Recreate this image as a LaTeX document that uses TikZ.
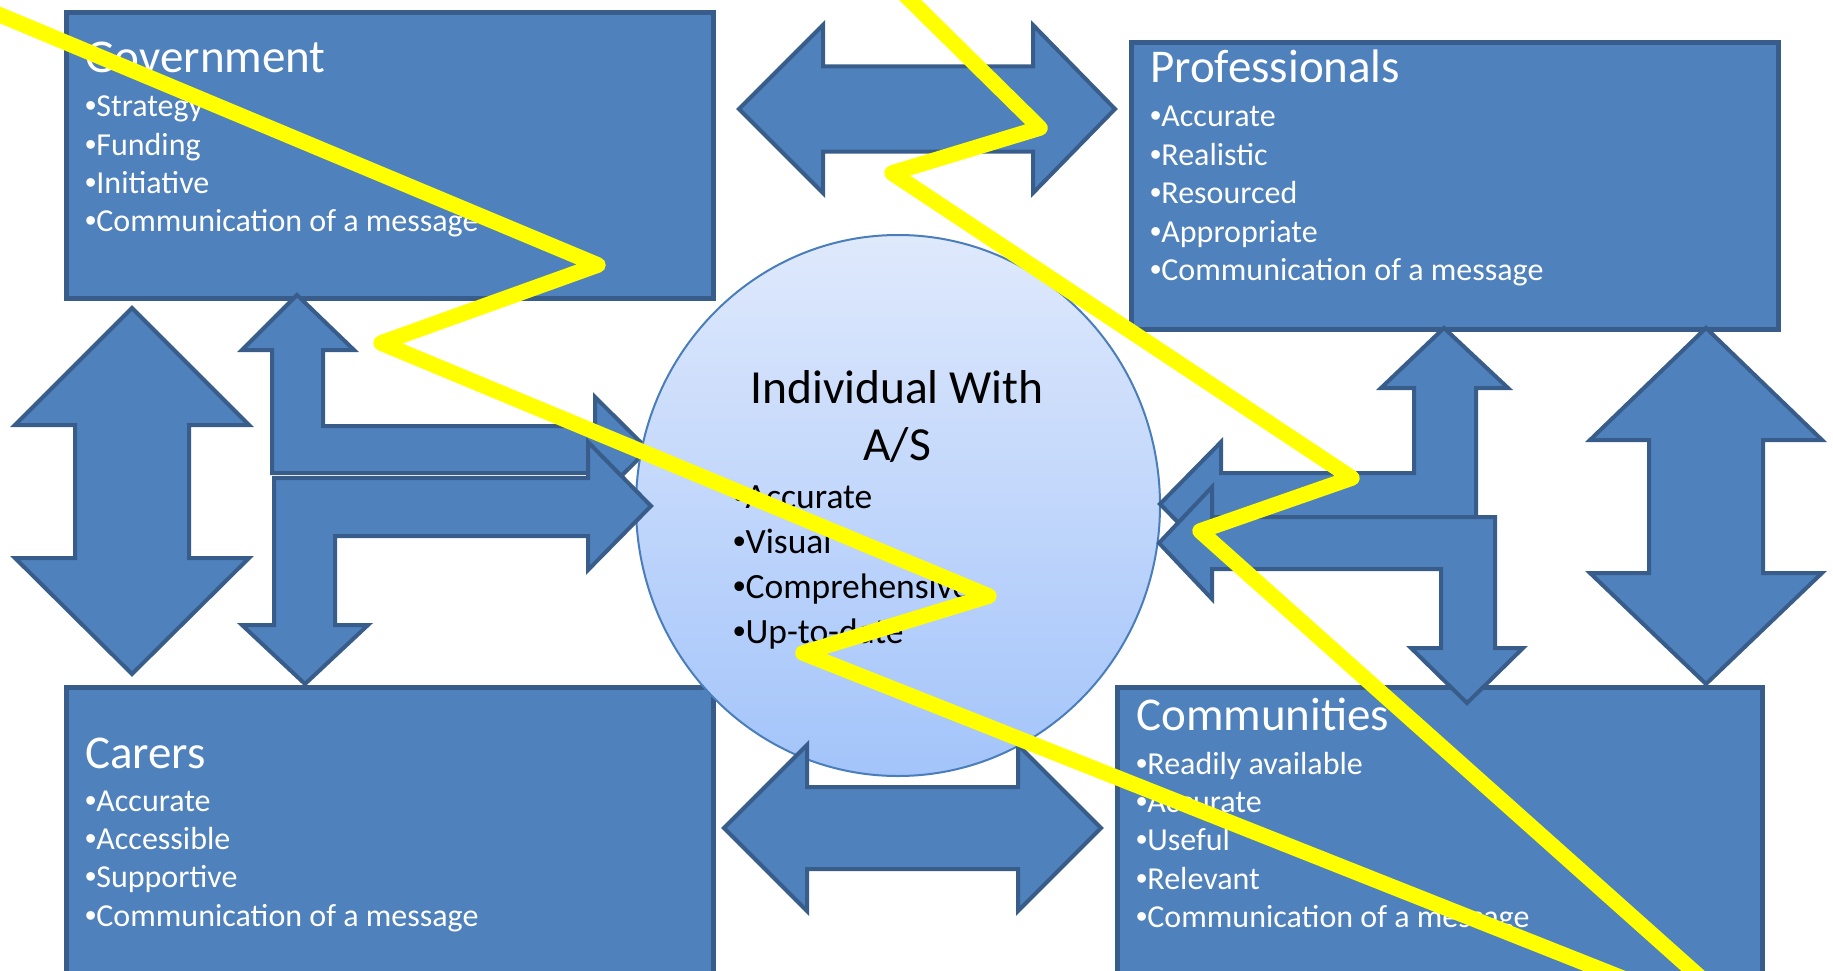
\documentclass[tikz,border=0pt]{standalone}
\usepackage{fontspec}
\setmainfont{Carlito}
\newfontfamily\bulfont{Liberation Sans}
\newcommand{\bul}{{\bulfont •}}
\usetikzlibrary{shapes.geometric}
\definecolor{boxblue}{RGB}{79,129,189}
\definecolor{boxedge}{RGB}{56,93,138}
\definecolor{circtop}{RGB}{223,233,252}
\definecolor{circbot}{RGB}{163,196,250}
\definecolor{circedge}{RGB}{74,126,187}
\definecolor{zigyellow}{RGB}{255,255,0}
\tikzset{
  blk/.style={fill=boxblue, draw=boxedge, line width=4pt, line join=miter},
  boxstyle/.style={fill=boxblue, draw=boxedge, line width=5pt, inner sep=0pt, anchor=north west},
  ttl/.style={anchor=base west, inner sep=0pt, text=white, font=\fontsize{47}{56}\selectfont},
  itm/.style={anchor=base west, inner sep=0pt, text=white, font=\fontsize{32}{38.5}\selectfont},
  cttl/.style={anchor=base, inner sep=0pt, text=black, font=\fontsize{47.5}{56}\selectfont},
  citm/.style={anchor=base west, inner sep=0pt, text=black, font=\fontsize{35.5}{45}\selectfont},
  zig/.style={draw=zigyellow, line width=15.5pt, line join=round}
}
\begin{document}
\begin{tikzpicture}[x=1pt,y=-1pt]
\useasboundingbox (0,0) rectangle (1833,971);
\clip (0,0) rectangle (1833,971);

% boxes
\node[boxstyle, minimum width=647pt, minimum height=286pt] (gov) at (64,10) {};
\node[boxstyle, minimum width=647pt, minimum height=287pt] (prof) at (1129,40) {};
\node[boxstyle, minimum width=647pt, minimum height=287pt] (carers) at (64,685) {};
\node[boxstyle, minimum width=645pt, minimum height=287pt] (comm) at (1115,685) {};

% bent arrow Gov <-> circle (behind the circle)
\draw[blk] (297,295) -- (354,350) -- (323,350) -- (323,426) -- (595,426) -- (595,397)
  -- (648,449.5) -- (595,502) -- (595,473) -- (272,473) -- (272,350) -- (242,350) -- cycle;

% central circle
\node[ellipse, inner sep=0pt, minimum width=524pt, minimum height=541pt,
      top color=circtop, bottom color=circbot, draw=circedge, line width=2pt] (circ) at (898,505.5) {};

% bent arrow Carers <-> circle
\draw[blk] (274,478) -- (588,478) -- (588,442) -- (651,506) -- (588,570) -- (588,536)
  -- (335,536) -- (335,625) -- (368,625) -- (305,684) -- (242,625) -- (274,625) -- cycle;

% bent arrow Professionals <-> circle
\draw[blk] (1444,328) -- (1508,388) -- (1476,388) -- (1476,535) -- (1221,535) -- (1221,566)
  -- (1160,504) -- (1221,442) -- (1221,473) -- (1414,473) -- (1414,388) -- (1381,388) -- cycle;

% bent arrow Communities <-> circle
\draw[blk] (1159,543) -- (1212,487) -- (1212,517) -- (1495,517) -- (1495,648) -- (1523,648)
  -- (1467,703) -- (1411,648) -- (1441,648) -- (1441,569) -- (1212,569) -- (1212,599) -- cycle;

% top double arrow Gov <-> Prof
\draw[blk] (739,109) -- (823,25) -- (823,66.5) -- (1033,66.5) -- (1033,25) -- (1115,109)
  -- (1033,193) -- (1033,151.5) -- (823,151.5) -- (823,193) -- cycle;

% bottom double arrow Carers <-> Communities
\draw[blk] (724,828) -- (807,745) -- (807,787) -- (1018,787) -- (1018,745) -- (1101,828)
  -- (1018,911) -- (1018,869) -- (807,869) -- (807,911) -- cycle;

% left vertical double arrow Gov <-> Carers
\draw[blk] (132,308) -- (249,425) -- (189,425) -- (189,558) -- (249,558) -- (132,674)
  -- (15,558) -- (75,558) -- (75,425) -- (15,425) -- cycle;

% right vertical double arrow Prof <-> Communities
\draw[blk] (1706,328) -- (1822,440) -- (1763,440) -- (1763,573) -- (1822,573) -- (1706,684)
  -- (1590,573) -- (1649,573) -- (1649,440) -- (1590,440) -- cycle;

% Government text
\node[ttl] (govT) at (85,73) {Government};
\node[itm] (gov1) at (85,117) {\bul Strategy};
\node[itm] (gov2) at (85,155) {\bul Funding};
\node[itm] (gov3) at (85,193) {\bul Initiative};
\node[itm] (gov4) at (85,231) {\bul Communication of a message};

% Professionals text
\node[ttl] (profT) at (1150,83) {Professionals};
\node[itm] (prof1) at (1150,127) {\bul Accurate};
\node[itm] (prof2) at (1150,165.3) {\bul Realistic};
\node[itm] (prof3) at (1150,203.6) {\bul Resourced};
\node[itm] (prof4) at (1150,242) {\bul Appropriate};
\node[itm] (prof5) at (1150,280.3) {\bul Communication of a message};

% Carers text
\node[ttl] (carT) at (85,768) {Carers};
\node[itm] (car1) at (85,811) {\bul Accurate};
\node[itm] (car2) at (85,849.3) {\bul Accessible};
\node[itm] (car3) at (85,887.6) {\bul Supportive};
\node[itm] (car4) at (85,926) {\bul Communication of a message};

% Communities text
\node[ttl] (comT) at (1136,730) {Communities};
\node[itm] (com1) at (1136,774) {\bul Readily available};
\node[itm] (com2) at (1136,812.3) {\bul Accurate};
\node[itm] (com3) at (1136,850.6) {\bul Useful};
\node[itm] (com4) at (1136,889) {\bul Relevant};
\node[itm] (com5) at (1136,927.3) {\bul Communication of a message};

% circle text
\node[cttl] (cT1) at (897,403) {Individual With};
\node[cttl] (cT2) at (897,460) {A/S};
\node[citm] (c1) at (733,508) {\bul Accurate};
\node[citm] (c2) at (733,553) {\bul Visual};
\node[citm] (c3) at (733,598) {\bul Comprehensive};
\node[citm] (c4) at (733,643) {\bul Up-to-date};

% yellow zigzags
\draw[zig] (-20,6.6) -- (598,265) -- (381,343) -- (989,596) -- (803,653) -- (1650,989);
\draw[zig] (900,-10) -- (1040,128) -- (892,173) -- (1352,478) -- (1200,531) -- (1720,995);
\end{tikzpicture}
\end{document}
